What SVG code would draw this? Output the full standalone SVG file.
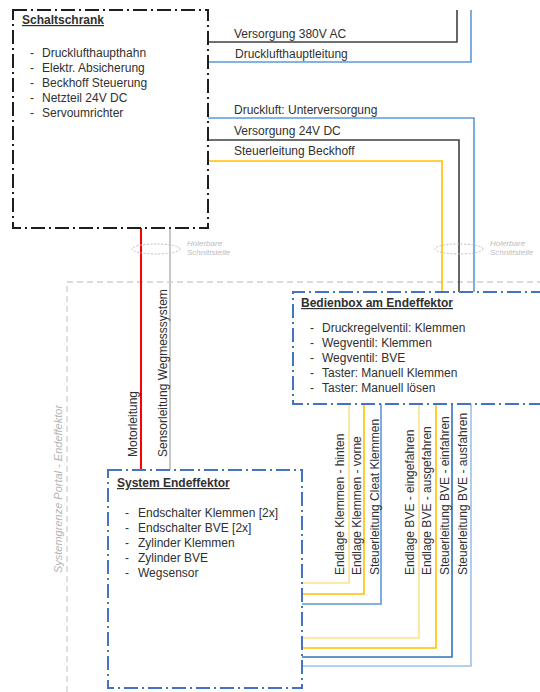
<svg xmlns="http://www.w3.org/2000/svg" width="540" height="692" viewBox="0 0 540 692">
  <style>
    text { font-family: "Liberation Sans", Arial, sans-serif; fill: #303030; }
    .lbl { font-size: 12px; }
    .title { font-size: 12px; font-weight: bold; text-decoration: underline; }
    .note { font-size: 8px; font-style: italic; fill: #bcbcbc; }
    .bound { font-size: 11px; font-style: italic; fill: #b4b4b4; }
    .boxK { fill: none; stroke: #1e1e1e; stroke-width: 2; stroke-dasharray: 14 4 2 4; }
    .boxB { fill: none; stroke: #4472c4; stroke-width: 2; stroke-dasharray: 14 4 2 4; }
    .w { fill: none; stroke-width: 1.6; }
    .blk { stroke: #404040; }
    .blue { stroke: #5b9bd5; }
    .dblue { stroke: #2e75b6; }
    .lblue { stroke: #9dc3e6; }
    .yel { stroke: #ffc000; }
    .lyel { stroke: #ffe08a; }
    .red { stroke: #ff0000; stroke-width: 2; }
    .gry { stroke: #c8c8c8; stroke-width: 2; }
    .gdash { fill: none; stroke: #d0d0d0; stroke-width: 1.3; stroke-dasharray: 6 4; }
    .ell { fill: none; stroke: #c0c0c0; stroke-width: 1; stroke-dasharray: 2 1.5; }
  </style>

  <!-- system boundary portal / end effector -->
  <g id="systemgrenze">
    <path class="gdash" d="M67,692 V282 H540"/>
    <text class="bound" text-anchor="middle" transform="translate(62,489) rotate(-90)">Systemgrenze Portal - Endeffektor</text>
  </g>

  <!-- connectors -->
  <g id="connectors">
    <!-- Schaltschrank to the right -->
    <path class="w blk" d="M208,42 H457 V10"/>
    <path class="w blue" d="M208,62 H471 V10"/>
    <path class="w blue" d="M208,118 H474 V292"/>
    <path class="w blk" d="M208,140 H459 V292"/>
    <path class="w yel" d="M208,161 H442 V292"/>
    <!-- Schaltschrank down to system -->
    <path class="w red" d="M141,228 V470"/>
    <path class="w gry" d="M170,228 V470"/>
    <!-- Bedienbox down to system -->
    <path class="w lyel" d="M349,404 V583 H302"/>
    <path class="w yel" d="M364,404 V594 H302"/>
    <path class="w blue" d="M381,404 V604 H302"/>
    <path class="w lyel" d="M419,404 V638 H302"/>
    <path class="w yel" d="M436,404 V648 H302"/>
    <path class="w dblue" d="M452,404 V657 H302"/>
    <path class="w lblue" d="M471,404 V666 H302"/>
  </g>

  <!-- connector labels -->
  <g id="connector-labels">
    <text class="lbl" x="234" y="38">Versorgung 380V AC</text>
    <text class="lbl" x="235" y="58">Drucklufthauptleitung</text>
    <text class="lbl" x="234" y="114">Druckluft: Unterversorgung</text>
    <text class="lbl" x="234" y="135">Versorgung 24V DC</text>
    <text class="lbl" x="234" y="155">Steuerleitung Beckhoff</text>
    <text class="lbl" transform="translate(137,457) rotate(-90)">Motorleitung</text>
    <text class="lbl" transform="translate(167,457) rotate(-90)">Sensorleitung Wegmesssystem</text>
    <text class="lbl" transform="translate(344,575) rotate(-90)">Endlage Klemmen - hinten</text>
    <text class="lbl" transform="translate(361,575) rotate(-90)">Endlage Klemmen - vorne</text>
    <text class="lbl" transform="translate(379,575) rotate(-90)">Steuerleitung Cleat Klemmen</text>
    <text class="lbl" transform="translate(414,575) rotate(-90)">Endlage BVE - eingefahren</text>
    <text class="lbl" transform="translate(431,575) rotate(-90)">Endlage BVE - ausgefahren</text>
    <text class="lbl" transform="translate(449,575) rotate(-90)">Steuerleitung BVE - einfahren</text>
    <text class="lbl" transform="translate(467,575) rotate(-90)">Steuerleitung BVE - ausfahren</text>
  </g>

  <!-- detachable interfaces -->
  <g id="schnittstelle-links">
    <ellipse class="ell" cx="156" cy="249" rx="24" ry="5"/>
    <text class="note" x="187" y="245.5">Holerbare</text>
    <text class="note" x="187" y="255">Schnittstelle</text>
  </g>
  <g id="schnittstelle-rechts">
    <ellipse class="ell" cx="459" cy="249" rx="24" ry="5"/>
    <text class="note" x="490" y="245.5">Holerbare</text>
    <text class="note" x="490" y="255">Schnittstelle</text>
  </g>

  <!-- control cabinet -->
  <g id="schaltschrank">
    <rect class="boxK" x="13" y="10" width="195" height="218"/>
    <text class="title" x="22" y="24">Schaltschrank</text>
    <text class="lbl" x="30" y="57">-</text><text class="lbl" x="42" y="57">Drucklufthaupthahn</text>
    <text class="lbl" x="30" y="72">-</text><text class="lbl" x="42" y="72">Elektr. Absicherung</text>
    <text class="lbl" x="30" y="87">-</text><text class="lbl" x="42" y="87">Beckhoff Steuerung</text>
    <text class="lbl" x="30" y="102">-</text><text class="lbl" x="42" y="102">Netzteil 24V DC</text>
    <text class="lbl" x="30" y="117">-</text><text class="lbl" x="42" y="117">Servoumrichter</text>
  </g>

  <!-- operator box -->
  <g id="bedienbox">
    <path class="boxB" d="M545,292 H293 V404 H545"/>
    <text class="title" x="301" y="307">Bedienbox am Endeffektor</text>
    <text class="lbl" x="310" y="332">-</text><text class="lbl" x="322" y="332">Druckregelventil: Klemmen</text>
    <text class="lbl" x="310" y="347">-</text><text class="lbl" x="322" y="347">Wegventil: Klemmen</text>
    <text class="lbl" x="310" y="362">-</text><text class="lbl" x="322" y="362">Wegventil: BVE</text>
    <text class="lbl" x="310" y="377">-</text><text class="lbl" x="322" y="377">Taster: Manuell Klemmen</text>
    <text class="lbl" x="310" y="392">-</text><text class="lbl" x="322" y="392">Taster: Manuell lösen</text>
  </g>

  <!-- end effector system -->
  <g id="system-endeffektor">
    <rect class="boxB" x="108" y="470" width="194" height="218"/>
    <text class="title" x="117" y="487">System Endeffektor</text>
    <text class="lbl" x="125" y="517">-</text><text class="lbl" x="138" y="517">Endschalter Klemmen [2x]</text>
    <text class="lbl" x="125" y="532">-</text><text class="lbl" x="138" y="532">Endschalter BVE [2x]</text>
    <text class="lbl" x="125" y="547">-</text><text class="lbl" x="138" y="547">Zylinder Klemmen</text>
    <text class="lbl" x="125" y="562">-</text><text class="lbl" x="138" y="562">Zylinder BVE</text>
    <text class="lbl" x="125" y="577">-</text><text class="lbl" x="138" y="577">Wegsensor</text>
  </g>
</svg>
